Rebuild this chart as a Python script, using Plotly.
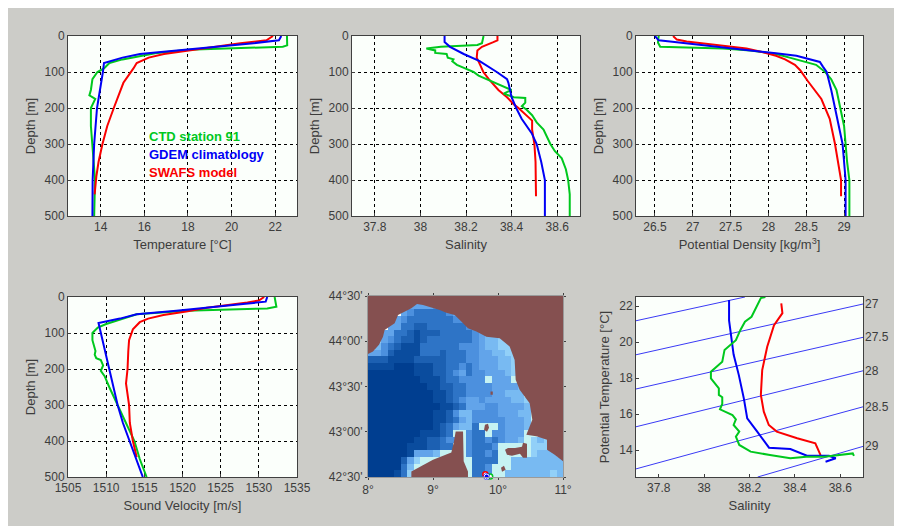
import plotly.graph_objects as go
from plotly.subplots import make_subplots

W, H = 902, 526
OFF = 8  # the page's own margin
GREEN, BLUE, RED = "#00C81E", "#0000F5", "#FA0000"
FONT = "Liberation Sans"
INK = "#3c3c3c"

# Temperature vs depth
t_ctd_d = [0, 26, 30, 33, 38, 48, 54, 65, 75, 90, 100, 120, 150, 165, 175, 190, 200, 250, 300, 350, 400, 500]
t_ctd = [22.54, 22.55, 22.35, 20.5, 18.0, 16.5, 15.95, 15.0, 14.4, 14.15, 13.85, 13.62, 13.55, 13.48, 13.75, 13.63, 13.55, 13.55, 13.62, 13.7, 13.74, 13.7]
t_gdem_d = [0, 12, 20, 30, 40, 50, 60, 75, 100, 200, 300, 400, 500]
t_gdem = [22.28, 22.17, 21.0, 19.3, 17.6, 15.8, 15.0, 14.15, 14.1, 13.83, 13.7, 13.63, 13.62]
t_swafs_d = [0, 12, 20, 30, 40, 50, 60, 75, 90, 130, 200, 250, 300, 350, 390, 440]
t_swafs = [21.9, 21.6, 20.4, 19.2, 18.0, 16.9, 16.2, 15.65, 15.5, 15.04, 14.6, 14.3, 14.08, 13.9, 13.8, 13.72]

# Salinity vs depth
s_ctd_d = [0, 20, 25, 30, 35, 40, 47, 50, 60, 65, 70, 80, 90, 100, 110, 120, 130, 140, 150, 160, 170, 172, 185, 195, 205, 220, 240, 260, 280, 300, 320, 340, 370, 400, 440, 500]
s_ctd = [38.277, 38.27, 38.25, 38.09, 38.026, 38.065, 38.065, 38.115, 38.12, 38.145, 38.14, 38.16, 38.196, 38.233, 38.255, 38.29, 38.33, 38.357, 38.4, 38.365, 38.41, 38.46, 38.46, 38.445, 38.466, 38.49, 38.51, 38.54, 38.556, 38.57, 38.59, 38.62, 38.638, 38.648, 38.655, 38.655]
s_gdem_d = [0, 17, 30, 50, 70, 85, 100, 120, 130, 170, 200, 230, 270, 300, 350, 400, 500]
s_gdem = [38.106, 38.106, 38.13, 38.19, 38.26, 38.3, 38.335, 38.38, 38.386, 38.4, 38.42, 38.444, 38.488, 38.51, 38.53, 38.546, 38.546]
s_swafs_d = [0, 12, 17, 30, 40, 60, 80, 100, 120, 135, 150, 170, 190, 200, 220, 235, 260, 300, 350, 400, 445]
s_swafs = [38.338, 38.338, 38.32, 38.27, 38.25, 38.247, 38.262, 38.276, 38.3, 38.32, 38.342, 38.38, 38.41, 38.43, 38.466, 38.49, 38.49, 38.5, 38.505, 38.507, 38.507]

# Potential density vs depth
r_ctd_d = [0, 18, 30, 32, 35, 40, 50, 60, 70, 80, 100, 120, 150, 200, 250, 300, 350, 400, 500]
r_ctd = [26.55, 26.54, 26.57, 26.97, 27.4, 27.76, 28.1, 28.28, 28.46, 28.63, 28.75, 28.83, 28.9, 28.95, 29.0, 29.02, 29.04, 29.07, 29.07]
r_gdem_d = [0, 12, 15, 22, 30, 40, 48, 55, 65, 72, 85, 100, 150, 200, 250, 300, 400, 500]
r_gdem = [26.5, 26.55, 26.7, 27.0, 27.4, 27.8, 28.1, 28.37, 28.55, 28.68, 28.72, 28.77, 28.83, 28.88, 28.93, 28.98, 29.02, 29.02]
r_swafs_d = [0, 10, 15, 20, 28, 35, 45, 55, 65, 80, 95, 125, 175, 230, 300, 350, 400, 445]
r_swafs = [26.74, 26.79, 26.92, 27.1, 27.45, 27.71, 27.93, 28.1, 28.22, 28.35, 28.42, 28.52, 28.7, 28.81, 28.88, 28.92, 28.96, 28.96]

# Sound velocity vs depth
c_ctd_d = [0, 27, 32, 35, 38, 48, 60, 75, 85, 100, 120, 150, 160, 170, 175, 190, 205, 220, 250, 290, 320, 350, 400, 450, 500]
c_ctd = [1532.07, 1532.3, 1531.1, 1524.5, 1520.5, 1514.0, 1512.2, 1510.0, 1508.9, 1508.2, 1508.2, 1508.6, 1508.5, 1508.7, 1509.3, 1509.6, 1509.3, 1509.8, 1510.4, 1511.3, 1512.0, 1512.6, 1513.7, 1514.4, 1515.3]
c_gdem_d = [0, 13, 20, 30, 38, 48, 60, 72, 100, 150, 200, 250, 300, 350, 400, 450, 500]
c_gdem = [1531.1, 1530.9, 1527.6, 1523.2, 1519.2, 1514.0, 1511.8, 1509.0, 1509.3, 1509.9, 1510.4, 1511.0, 1511.5, 1512.2, 1513.1, 1514.0, 1514.8]
c_swafs_d = [0, 10, 15, 20, 30, 40, 50, 60, 70, 90, 120, 150, 200, 240, 300, 350, 400, 445]
c_swafs = [1530.7, 1530.0, 1528.5, 1526.7, 1523.2, 1520.5, 1517.5, 1515.5, 1514.4, 1513.5, 1513.0, 1512.9, 1512.8, 1512.6, 1513.0, 1513.1, 1513.5, 1514.0]

# T-S diagram
ts_ctd_s = [38.27, 38.25, 38.209, 38.18, 38.16, 38.14, 38.09, 38.08, 38.03, 38.03, 38.065, 38.065, 38.08, 38.08, 38.07, 38.125, 38.14, 38.13, 38.155, 38.14, 38.155, 38.205, 38.29, 38.38, 38.45, 38.53, 38.655, 38.66]
ts_ctd_t = [22.5, 22.44, 21.4, 21.13, 20.67, 20.1, 19.56, 18.9, 18.35, 17.98, 17.43, 17.06, 16.93, 16.56, 16.26, 15.94, 15.7, 15.39, 15.02, 14.74, 14.28, 13.91, 13.72, 13.54, 13.63, 13.63, 13.81, 13.67]
ts_gdem_s = [38.11, 38.11, 38.13, 38.153, 38.175, 38.19, 38.234, 38.286, 38.38, 38.453, 38.55, 38.58, 38.535]
ts_gdem_t = [22.33, 21.2, 19.3, 18.16, 16.87, 15.76, 15.02, 14.13, 14.05, 13.68, 13.68, 13.54, 13.35]
ts_swafs_s = [38.34, 38.345, 38.308, 38.278, 38.256, 38.25, 38.263, 38.285, 38.32, 38.41, 38.49, 38.513]
ts_swafs_t = [22.15, 21.6, 20.94, 19.74, 18.44, 17.06, 16.13, 15.39, 15.02, 14.65, 14.37, 13.72]

# Isopycnals: label, (salinity, temperature) at the two ends
iso_labels = ["", "27", "27.5", "28", "28.5", "29"]
iso_s0 = [37.7, 37.7, 37.7, 37.7, 37.7, 38.236]
iso_t0 = [21.18, 19.29, 17.39, 15.29, 12.95, 12.5]
iso_s1 = [38.18, 38.7, 38.7, 38.7, 38.7, 38.7]
iso_t1 = [22.5, 22.11, 20.26, 18.4, 16.4, 14.2]

# Bathymetry classes, north row first (0 deep ... 8 shallow, '.' land)
map_rows = [
    "..............................",
    "......555545..................",
    ".....5433333458...............",
    "....5433333334458.............",
    "...553322333333448............",
    "..553321222333334578..........",
    ".7543221233333334566777.......",
    "864321113333334445667777......",
    "554211113332333445566777......",
    "22211112222233344555667.......",
    "11110001112233434555667.......",
    "000000011122345344555677......",
    "00000000111233444485558 7.....".replace(" ", ""),
    "000000000112233444455556 67...".replace(" ", ""),
    "0000000000112334444556668.....",
    "00000000001123455455556678....",
    "000000000001123555445555678...",
    "00000000001124664444555668....",
    "00000000001123564444455568....",
    "00000000001235663888455568....",
    "00000000111238843384455588....",
    "00000001122344843343455687678.",
    "00000011122338843334888887778.",
    "000000155568888433438888876668",
    "000002578888888833338866666666",
    "000003688888888833488866666666",
    "000013788888888833488666666676",
]
map_classes = ["#003E90", "#0A4C9E", "#1C60B2", "#2E74C6", "#4C90DE", "#62A4EA", "#78BAF2", "#92D0F8", "#C6F2F2"]

# Land outlines, degrees
main_lon = [8.0, 8.0, 8.077, 8.169, 8.231, 8.256, 8.41, 8.462, 8.667, 8.754, 8.846, 9.026, 9.103, 9.205, 9.333, 9.436, 9.538, 9.667, 9.821, 10.026, 10.179, 10.256, 10.272, 10.333, 10.487, 10.528, 10.436, 10.59, 10.754, 10.754, 10.872, 11.0, 11.0]
main_lat = [44.5, 43.86, 43.886, 43.96, 44.051, 44.125, 44.199, 44.29, 44.364, 44.412, 44.401, 44.364, 44.346, 44.316, 44.29, 44.217, 44.143, 44.107, 44.051, 44.033, 43.941, 43.794, 43.574, 43.463, 43.316, 43.132, 42.967, 42.949, 42.912, 42.801, 42.746, 42.673, 44.5]
corsica_lon = [8.667, 8.667, 9.0, 9.282, 9.318, 9.349, 9.462, 9.472, 9.472, 9.538, 9.538]
corsica_lat = [42.5, 42.562, 42.69, 42.772, 42.875, 43.004, 43.004, 42.765, 42.673, 42.562, 42.5]
elba_lon = [10.108, 10.154, 10.262, 10.369, 10.385, 10.446, 10.446, 10.385, 10.338, 10.215, 10.138]
elba_lat = [42.80, 42.82, 42.82, 42.835, 42.879, 42.868, 42.713, 42.713, 42.757, 42.735, 42.746]
capraia_lon = [9.8, 9.846, 9.862, 9.831, 9.785]
capraia_lat = [43.077, 43.088, 43.044, 43.0, 43.022]
gorgona_lon = [9.885, 9.92, 9.92, 9.885]
gorgona_lat = [43.445, 43.445, 43.41, 43.41]
pianosa_lon = [10.046, 10.092, 10.118, 10.062]
pianosa_lat = [42.603, 42.625, 42.581, 42.559]

# Station positions
st_lon = [9.805, 9.88, 9.826]
st_lat = [42.53, 42.505, 42.505]
st_col = [RED, GREEN, BLUE]

legend_labels = ["CTD station 91", "GDEM climatology", "SWAFS model"]
legend_colors = [GREEN, BLUE, RED]

fig = make_subplots(rows=2, cols=3)

def line(x, y, color, r, c, width=2):
    fig.add_trace(go.Scatter(x=x, y=y, mode="lines", line=dict(color=color, width=width), showlegend=False, hoverinfo="skip"), row=r, col=c)

for (r, c, sets) in [
    (1, 1, [(t_ctd, t_ctd_d, GREEN), (t_swafs, t_swafs_d, RED), (t_gdem, t_gdem_d, BLUE)]),
    (1, 2, [(s_swafs, s_swafs_d, RED), (s_ctd, s_ctd_d, GREEN), (s_gdem, s_gdem_d, BLUE)]),
    (1, 3, [(r_ctd, r_ctd_d, GREEN), (r_swafs, r_swafs_d, RED), (r_gdem, r_gdem_d, BLUE)]),
    (2, 1, [(c_ctd, c_ctd_d, GREEN), (c_swafs, c_swafs_d, RED), (c_gdem, c_gdem_d, BLUE)]),
]:
    for x, y, col in sets:
        line(x, y, col, r, c)

# map
z = [[None if ch == "." else int(ch) for ch in row.ljust(30, ".")[:30]] for row in reversed(map_rows)]
n = len(map_classes) - 1
fig.add_trace(go.Heatmap(z=z, x0=8.05, dx=0.1, y0=42.5 + 1 / 27, dy=2 / 27, zmin=0, zmax=n,
                         colorscale=[[i / n, col] for i, col in enumerate(map_classes)],
                         showscale=False, hoverinfo="skip"), row=2, col=2)
land_lon, land_lat = [], []
for lo, la in [(main_lon, main_lat), (corsica_lon, corsica_lat), (elba_lon, elba_lat), (capraia_lon, capraia_lat), (gorgona_lon, gorgona_lat), (pianosa_lon, pianosa_lat)]:
    land_lon += lo + [lo[0], None]
    land_lat += la + [la[0], None]
fig.add_trace(go.Scatter(x=land_lon, y=land_lat, mode="lines", fill="toself", fillcolor="#855050",
                         line=dict(color="#855050", width=0), showlegend=False, hoverinfo="skip"), row=2, col=2)
fig.add_trace(go.Scatter(x=st_lon, y=st_lat, mode="markers", cliponaxis=False,
                         marker=dict(size=5, color="white", line=dict(color=st_col, width=1.5)),
                         showlegend=False, hoverinfo="skip"), row=2, col=2)
fig.add_trace(go.Scatter(x=st_lon[2:], y=st_lat[2:], mode="markers", cliponaxis=False,
                         marker=dict(size=5, color=BLUE, line=dict(color="white", width=1)), showlegend=False, hoverinfo="skip"), row=2, col=2)

# T-S
for s0, t0, s1, t1 in zip(iso_s0, iso_t0, iso_s1, iso_t1):
    line([s0, s1], [t0, t1], "#3A3AF5", 2, 3, width=1)
line(ts_swafs_s, ts_swafs_t, RED, 2, 3)
line(ts_gdem_s, ts_gdem_t, BLUE, 2, 3)
line(ts_ctd_s, ts_ctd_t, GREEN, 2, 3)

tick_font = dict(family=FONT, size=12, color=INK)
title_font = dict(family=FONT, size=13, color=INK)

def px_x(a, b):
    return [(a - OFF) / W, (b - OFF) / W]

def px_y(a, b):
    return [1 - (b - OFF) / H, 1 - (a - OFF) / H]

def ax(domain, rng, tickvals=None, ticktext=None, title=None, grid=True, standoff=6, **kw):
    d = dict(domain=domain, range=rng, showline=True, linecolor="#404040", linewidth=1, mirror=True,
             ticks="inside", ticklen=3, tickcolor="#404040", tickfont=tick_font, zeroline=False,
             showgrid=grid, gridcolor="#000000", griddash="3px,3px", gridwidth=1, automargin=False)
    if tickvals is not None:
        d["tickmode"] = "array"
        d["tickvals"] = tickvals
        d["ticktext"] = ticktext if ticktext else [str(v) for v in tickvals]
    if title:
        d["title"] = dict(text=title, font=title_font, standoff=standoff)
    d.update(kw)
    return d

depth_ticks = [0, 100, 200, 300, 400, 500]
col_x = [(68, 297), (352, 580), (636, 863)]
top_y, bot_y = (36, 216), (297, 477)
so_y = 6

fig.update_layout(
    xaxis=ax(px_x(*col_x[0]), [12.5, 23], [14, 16, 18, 20, 22], title="Temperature [°C]"),
    yaxis=ax(px_y(*top_y), [500, 0], depth_ticks, title="Depth [m]", standoff=so_y),
    xaxis2=ax(px_x(*col_x[1]), [37.7, 38.7], [37.8, 38, 38.2, 38.4, 38.6], ["37.8", "38", "38.2", "38.4", "38.6"], title="Salinity"),
    yaxis2=ax(px_y(*top_y), [500, 0], depth_ticks, title="Depth [m]", standoff=so_y),
    xaxis3=ax(px_x(*col_x[2]), [26.25, 29.25], [26.5, 27, 27.5, 28, 28.5, 29], title="Potential Density [kg/m<sup>3</sup>]"),
    yaxis3=ax(px_y(*top_y), [500, 0], depth_ticks, title="Depth [m]", standoff=so_y),
    xaxis4=ax(px_x(*col_x[0]), [1505, 1535], [1505, 1510, 1515, 1520, 1525, 1530, 1535], title="Sound Velocity [m/s]"),
    yaxis4=ax(px_y(*bot_y), [500, 0], depth_ticks, title="Depth [m]", standoff=so_y),
    xaxis5=ax(px_x(368, 563), [8, 11], [8, 9, 10, 11], ["8°", "9°", "10°", "11°"], grid=False, ticks="outside", ticklen=2, mirror="ticks", linecolor="#9a9a9a"),
    yaxis5=ax(px_y(296, 477), [42.5, 44.5], [42.5, 43, 43.5, 44, 44.5], ["42°30'", "43°00'", "43°30'", "44°00'", "44°30'"], grid=False, ticks="outside", ticklen=2, mirror="ticks", linecolor="#9a9a9a"),
    xaxis6=ax(px_x(*col_x[2]), [37.7, 38.7], [37.8, 38, 38.2, 38.4, 38.6], ["37.8", "38", "38.2", "38.4", "38.6"], title="Salinity", grid=False),
    yaxis6=ax(px_y(*bot_y), [12.5, 22.5], [14, 16, 18, 20, 22], title="Potential Temperature [°C]", grid=False, standoff=so_y),
    width=W, height=H, margin=dict(l=0, r=0, t=0, b=0),
    paper_bgcolor="#CCCCC8", plot_bgcolor="#FBFFFB", showlegend=False,
)

anns = []
for i, (txt, col) in enumerate(zip(legend_labels, legend_colors)):
    anns.append(dict(x=(147 - OFF) / W, y=1 - (137 - OFF + 17.7 * i) / H, xref="paper", yref="paper", text=f"<b>{txt}</b>", showarrow=False,
                     xanchor="left", yanchor="middle", font=dict(family=FONT, size=13, color=col)))
for lab, t in zip(iso_labels, iso_t1):
    if lab:
        anns.append(dict(x=38.7, y=t, xref="x6", yref="y6", text=lab, showarrow=False, xanchor="left", yanchor="middle",
                         font=tick_font))
fig.update_layout(annotations=anns)

fig.write_html("out.html")
